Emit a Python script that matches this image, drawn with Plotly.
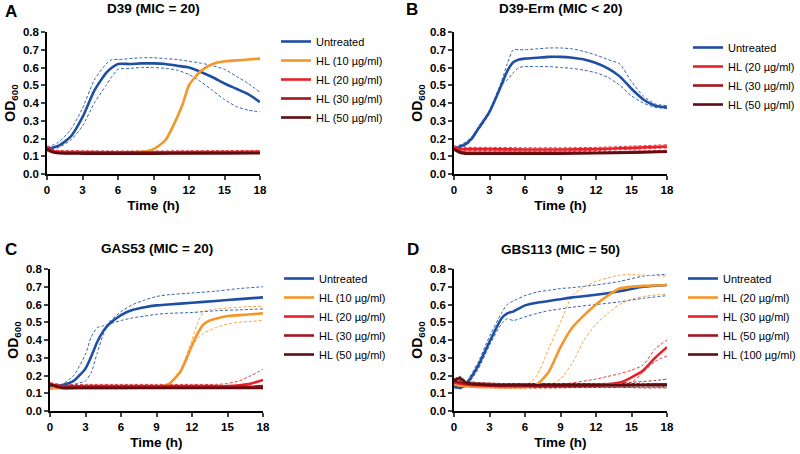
import plotly.graph_objects as go

BLUE = "#1f4fa3"
ORANGE = "#f5962a"
RED = "#e8202a"
DKRED = "#a3141c"
DKRED2 = "#5e0e10"

# ---------------- Panel A: D39 (MIC = 20) ----------------
a_t_unt = [0, 1, 2, 3, 4, 5, 5.5, 6, 7, 8, 9, 10, 11, 12, 13, 14, 15, 16, 17, 18]
a_unt = [0.14, 0.16, 0.21, 0.32, 0.47, 0.57, 0.60, 0.62, 0.62, 0.623, 0.623, 0.62, 0.61, 0.60, 0.575, 0.545, 0.51, 0.48, 0.45, 0.405]
a_unt_hi = [0.15, 0.18, 0.25, 0.37, 0.53, 0.62, 0.645, 0.645, 0.65, 0.655, 0.655, 0.65, 0.645, 0.635, 0.625, 0.61, 0.59, 0.55, 0.51, 0.46]
a_unt_lo = [0.13, 0.15, 0.19, 0.27, 0.40, 0.50, 0.55, 0.59, 0.595, 0.60, 0.60, 0.595, 0.585, 0.56, 0.52, 0.47, 0.42, 0.38, 0.36, 0.35]
a_t_hl10 = [0, 1, 3, 6, 8, 9, 10, 11, 11.5, 12, 13, 14, 15, 16, 17, 18]
a_hl10 = [0.13, 0.122, 0.12, 0.12, 0.125, 0.14, 0.19, 0.32, 0.40, 0.50, 0.58, 0.62, 0.635, 0.64, 0.645, 0.65]
a_t_flat = [0, 0.5, 1, 3, 6, 9, 12, 15, 18]
a_hl20 = [0.15, 0.13, 0.125, 0.123, 0.122, 0.122, 0.123, 0.124, 0.125]
a_hl30 = [0.14, 0.125, 0.12, 0.118, 0.118, 0.118, 0.119, 0.12, 0.12]
a_hl50 = [0.14, 0.122, 0.117, 0.115, 0.115, 0.115, 0.116, 0.116, 0.117]

# ---------------- Panel B: D39-Erm (MIC < 20) ----------------
b_t_unt = [0, 1, 1.5, 2, 3, 4, 4.5, 5, 5.5, 6, 7, 8, 9, 10, 11, 12, 13, 14, 15, 16, 17, 18]
b_unt = [0.14, 0.17, 0.20, 0.25, 0.35, 0.50, 0.58, 0.63, 0.645, 0.65, 0.655, 0.66, 0.66, 0.655, 0.645, 0.625, 0.595, 0.55, 0.48, 0.42, 0.385, 0.375]
b_unt_hi = [0.15, 0.18, 0.21, 0.26, 0.36, 0.52, 0.62, 0.70, 0.70, 0.70, 0.705, 0.71, 0.71, 0.705, 0.69, 0.67, 0.645, 0.62, 0.52, 0.44, 0.395, 0.385]
b_unt_lo = [0.13, 0.16, 0.19, 0.24, 0.34, 0.50, 0.53, 0.57, 0.60, 0.605, 0.605, 0.605, 0.60, 0.595, 0.585, 0.57, 0.545, 0.50, 0.44, 0.40, 0.375, 0.37]
b_t_flat = [0, 0.5, 1, 3, 6, 9, 12, 15, 18]
b_hl20 = [0.15, 0.14, 0.14, 0.14, 0.138, 0.138, 0.14, 0.147, 0.155]
b_hl30 = [0.14, 0.125, 0.12, 0.12, 0.12, 0.12, 0.12, 0.123, 0.127]
b_hl50 = [0.14, 0.12, 0.115, 0.115, 0.115, 0.115, 0.117, 0.12, 0.125]

# ---------------- Panel C: GAS53 (MIC = 20) ----------------
c_t_unt = [0, 1, 2, 3, 3.5, 4, 4.5, 5, 6, 7, 8, 9, 10, 12, 14, 16, 18]
c_unt = [0.14, 0.145, 0.17, 0.24, 0.31, 0.39, 0.45, 0.49, 0.54, 0.57, 0.585, 0.595, 0.60, 0.61, 0.62, 0.63, 0.64]
c_unt_early = [0.14, 0.15, 0.20, 0.32, 0.42, 0.47, 0.48, 0.49, 0.51, 0.525, 0.535, 0.545, 0.55, 0.555, 0.565, 0.57, 0.575]
c_unt_late = [0.14, 0.14, 0.15, 0.17, 0.22, 0.33, 0.43, 0.50, 0.56, 0.60, 0.625, 0.645, 0.655, 0.665, 0.675, 0.69, 0.70]
c_t_hl10 = [0, 1, 3, 6, 9, 10, 11, 11.5, 12, 12.5, 13, 13.5, 14, 15, 16, 17, 18]
c_hl10 = [0.13, 0.13, 0.13, 0.13, 0.135, 0.15, 0.22, 0.29, 0.37, 0.44, 0.49, 0.51, 0.52, 0.535, 0.54, 0.545, 0.55]
c_hl10_hi = [0.14, 0.135, 0.135, 0.135, 0.14, 0.155, 0.23, 0.31, 0.40, 0.50, 0.56, 0.57, 0.575, 0.58, 0.585, 0.588, 0.59]
c_hl10_lo = [0.12, 0.125, 0.125, 0.125, 0.13, 0.145, 0.21, 0.28, 0.36, 0.41, 0.44, 0.455, 0.47, 0.49, 0.50, 0.505, 0.51]
c_t_red = [0, 1, 3, 6, 9, 12, 14, 15, 16, 17, 18]
c_hl20 = [0.15, 0.14, 0.14, 0.14, 0.14, 0.14, 0.14, 0.14, 0.145, 0.155, 0.175]
c_hl20_hi = [0.16, 0.15, 0.15, 0.15, 0.15, 0.15, 0.15, 0.155, 0.17, 0.20, 0.235]
c_hl20_lo = [0.14, 0.13, 0.13, 0.13, 0.13, 0.13, 0.13, 0.13, 0.13, 0.13, 0.13]
c_hl30 = [0.15, 0.135, 0.135, 0.135, 0.135, 0.135, 0.135, 0.135, 0.136, 0.137, 0.14]
c_hl50 = [0.15, 0.13, 0.13, 0.13, 0.13, 0.13, 0.13, 0.13, 0.13, 0.13, 0.13]

# ---------------- Panel D: GBS113 (MIC = 50) ----------------
d_t_unt = [0, 0.5, 1, 2, 3, 4, 4.5, 5, 6, 7, 8, 9, 10, 12, 14, 16, 18]
d_unt = [0.14, 0.13, 0.15, 0.25, 0.39, 0.52, 0.55, 0.56, 0.595, 0.61, 0.62, 0.63, 0.64, 0.655, 0.675, 0.70, 0.71]
d_unt_hi = [0.14, 0.14, 0.16, 0.27, 0.42, 0.55, 0.60, 0.62, 0.65, 0.67, 0.68, 0.69, 0.695, 0.71, 0.73, 0.76, 0.77]
d_unt_lo = [0.13, 0.125, 0.14, 0.23, 0.37, 0.49, 0.52, 0.51, 0.53, 0.55, 0.565, 0.575, 0.585, 0.60, 0.615, 0.635, 0.65]
d_t_hl20 = [0, 1, 3, 6, 7, 8, 9, 10, 11, 12, 13, 14, 15, 16, 18]
d_hl20 = [0.15, 0.14, 0.135, 0.135, 0.15, 0.22, 0.36, 0.47, 0.54, 0.60, 0.65, 0.69, 0.70, 0.705, 0.71]
d_hl20_early = [0.15, 0.14, 0.135, 0.14, 0.20, 0.35, 0.50, 0.65, 0.70, 0.73, 0.75, 0.765, 0.768, 0.765, 0.76]
d_hl20_late = [0.15, 0.135, 0.13, 0.13, 0.13, 0.14, 0.18, 0.27, 0.40, 0.49, 0.55, 0.60, 0.63, 0.645, 0.66]
d_t_red = [0, 0.5, 1, 2, 4, 6, 9, 12, 13, 14, 15, 16, 17, 18]
d_hl30 = [0.16, 0.155, 0.15, 0.145, 0.14, 0.14, 0.14, 0.145, 0.15, 0.16, 0.19, 0.23, 0.30, 0.36]
d_hl30_hi = [0.17, 0.165, 0.16, 0.155, 0.15, 0.15, 0.15, 0.18, 0.195, 0.21, 0.23, 0.26, 0.35, 0.40]
d_hl30_lo = [0.15, 0.145, 0.14, 0.135, 0.13, 0.13, 0.13, 0.14, 0.145, 0.15, 0.16, 0.22, 0.28, 0.31]
d_hl50 = [0.17, 0.16, 0.155, 0.15, 0.145, 0.145, 0.145, 0.145, 0.145, 0.145, 0.147, 0.148, 0.15, 0.15]
d_hl50_hi = [0.18, 0.17, 0.165, 0.16, 0.155, 0.155, 0.155, 0.155, 0.156, 0.158, 0.162, 0.166, 0.172, 0.18]
d_hl50_lo = [0.16, 0.15, 0.145, 0.14, 0.135, 0.133, 0.132, 0.132, 0.132, 0.132, 0.132, 0.13, 0.13, 0.13]
d_hl100 = [0.17, 0.185, 0.16, 0.15, 0.145, 0.145, 0.145, 0.145, 0.145, 0.145, 0.145, 0.145, 0.145, 0.145]
d_hl100_hi = [0.18, 0.195, 0.17, 0.16, 0.155, 0.155, 0.155, 0.155, 0.155, 0.155, 0.155, 0.155, 0.155, 0.155]
d_hl100_lo = [0.16, 0.175, 0.15, 0.14, 0.135, 0.135, 0.135, 0.135, 0.135, 0.135, 0.135, 0.135, 0.135, 0.135]

titles = ["D39 (MIC = 20)", "D39-Erm (MIC < 20)", "GAS53 (MIC = 20)", "GBS113 (MIC = 50)"]
letters = ["A", "B", "C", "D"]

FONT = "Arial, Liberation Sans, sans-serif"
W, H = 800, 454

# plot areas in pixels (left, right, top, bottom)
boxes = [(47, 260, 32, 174), (454, 667, 32, 174), (50, 263, 269, 411), (454, 667, 269, 411)]
title_y = [8, 8, 248, 249]
letter_pos = [(3, 12), (404, 9), (3, 249), (405, 249)]
legend_pos = [(276, 27), (688, 33), (279, 264), (683, 264)]

fig = go.Figure()


def mean_line(t, y, color, name, panel):
    ax = "" if panel == 1 else str(panel)
    fig.add_trace(go.Scatter(
        x=t, y=y, mode="lines", name=name,
        line=dict(color=color, width=2.6, shape="spline", smoothing=0.6),
        xaxis="x" + ax, yaxis="y" + ax, legend="legend" + ax,
    ))


def band_line(t, y, color, panel):
    ax = "" if panel == 1 else str(panel)
    fig.add_trace(go.Scatter(
        x=t, y=y, mode="lines", showlegend=False, hoverinfo="skip",
        line=dict(color=color, width=0.9, dash="3px,2px", shape="spline", smoothing=0.6),
        xaxis="x" + ax, yaxis="y" + ax,
    ))


# panel A
band_line(a_t_unt, a_unt_hi, BLUE, 1)
band_line(a_t_unt, a_unt_lo, BLUE, 1)
band_line(a_t_flat, [v + 0.008 for v in a_hl20], RED, 1)
band_line(a_t_flat, [v - 0.006 for v in a_hl20], RED, 1)
mean_line(a_t_unt, a_unt, BLUE, "Untreated", 1)
mean_line(a_t_hl10, a_hl10, ORANGE, "HL (10 µg/ml)", 1)
mean_line(a_t_flat, a_hl20, RED, "HL (20 µg/ml)", 1)
mean_line(a_t_flat, a_hl30, DKRED, "HL (30 µg/ml)", 1)
mean_line(a_t_flat, a_hl50, DKRED2, "HL (50 µg/ml)", 1)

# panel B
band_line(b_t_unt, b_unt_hi, BLUE, 2)
band_line(b_t_unt, b_unt_lo, BLUE, 2)
band_line(b_t_flat, [v + 0.01 for v in b_hl20], RED, 2)
band_line(b_t_flat, [v - 0.008 for v in b_hl20], RED, 2)
band_line(b_t_flat, [v + 0.008 for v in b_hl50], DKRED, 2)
mean_line(b_t_unt, b_unt, BLUE, "Untreated", 2)
mean_line(b_t_flat, b_hl20, RED, "HL (20 µg/ml)", 2)
mean_line(b_t_flat, b_hl30, DKRED, "HL (30 µg/ml)", 2)
mean_line(b_t_flat, b_hl50, DKRED2, "HL (50 µg/ml)", 2)

# panel C
band_line(c_t_unt, c_unt_early, BLUE, 3)
band_line(c_t_unt, c_unt_late, BLUE, 3)
band_line(c_t_hl10, c_hl10_hi, ORANGE, 3)
band_line(c_t_hl10, c_hl10_lo, ORANGE, 3)
band_line(c_t_red, c_hl20_hi, RED, 3)
band_line(c_t_red, c_hl20_lo, RED, 3)
mean_line(c_t_unt, c_unt, BLUE, "Untreated", 3)
mean_line(c_t_hl10, c_hl10, ORANGE, "HL (10 µg/ml)", 3)
mean_line(c_t_red, c_hl20, RED, "HL (20 µg/ml)", 3)
mean_line(c_t_red, c_hl30, DKRED, "HL (30 µg/ml)", 3)
mean_line(c_t_red, c_hl50, DKRED2, "HL (50 µg/ml)", 3)

# panel D
band_line(d_t_unt, d_unt_hi, BLUE, 4)
band_line(d_t_unt, d_unt_lo, BLUE, 4)
band_line(d_t_hl20, d_hl20_early, ORANGE, 4)
band_line(d_t_hl20, d_hl20_late, ORANGE, 4)
band_line(d_t_red, d_hl30_hi, RED, 4)
band_line(d_t_red, d_hl30_lo, RED, 4)
band_line(d_t_red, d_hl50_hi, DKRED, 4)
band_line(d_t_red, d_hl50_lo, DKRED, 4)
band_line(d_t_red, d_hl100_hi, DKRED2, 4)
band_line(d_t_red, d_hl100_lo, DKRED2, 4)
mean_line(d_t_unt, d_unt, BLUE, "Untreated", 4)
mean_line(d_t_hl20, d_hl20, ORANGE, "HL (20 µg/ml)", 4)
mean_line(d_t_red, d_hl30, RED, "HL (30 µg/ml)", 4)
mean_line(d_t_red, d_hl50, DKRED, "HL (50 µg/ml)", 4)
mean_line(d_t_red, d_hl100, DKRED2, "HL (100 µg/ml)", 4)

layout = dict(
    width=W, height=H,
    margin=dict(l=0, r=0, t=0, b=0, autoexpand=False),
    plot_bgcolor="white", paper_bgcolor="white",
    font=dict(family=FONT, color="black"),
    annotations=[],
)

for i, (l, r, t, b) in enumerate(boxes):
    k = "" if i == 0 else str(i + 1)
    layout["xaxis" + k] = dict(
        domain=[l / W, r / W], range=[0, 18], anchor="y" + k,
        tickvals=[0, 3, 6, 9, 12, 15, 18], ticks="outside", ticklen=4, tickwidth=1.5,
        showline=True, linecolor="black", linewidth=1.5, showgrid=False, zeroline=False,
        tickfont=dict(size=11.5, family=FONT, weight="bold"),
        title=dict(text="<b>Time (h)</b>", font=dict(size=13.5), standoff=6),
    )
    layout["yaxis" + k] = dict(
        domain=[1 - b / H, 1 - t / H], range=[0, 0.8], anchor="x" + k,
        tickvals=[0, 0.1, 0.2, 0.3, 0.4, 0.5, 0.6, 0.7, 0.8], tickformat=".1f",
        ticks="outside", ticklen=4, tickwidth=1.5,
        showline=True, linecolor="black", linewidth=1.5, showgrid=False, zeroline=False,
        tickfont=dict(size=11.5, family=FONT, weight="bold"),
        title=dict(text="<b>OD<sub>600</sub></b>", font=dict(size=14), standoff=4),
    )
    lx, ly = legend_pos[i]
    layout["legend" + k] = dict(
        x=lx / W, y=1 - ly / H, xanchor="left", yanchor="top",
        font=dict(size=11, family=FONT), bgcolor="rgba(0,0,0,0)",
        tracegroupgap=0, itemwidth=30,
    )
    layout["annotations"].append(dict(
        text="<b>" + titles[i] + "</b>", x=(l + r) / 2 / W, y=1 - title_y[i] / H,
        xref="paper", yref="paper", showarrow=False, font=dict(size=13.5),
        xanchor="center", yanchor="middle",
    ))
    px_, py_ = letter_pos[i]
    layout["annotations"].append(dict(
        text="<b>" + letters[i] + "</b>", x=px_ / W, y=1 - py_ / H,
        xref="paper", yref="paper", showarrow=False, font=dict(size=17),
        xanchor="left", yanchor="middle",
    ))

fig.update_layout(**layout)
# drop the default 8px page margin so the 800x454 figure fills the window
fig.write_html(
    "out.html",
    config={"displayModeBar": False},
    post_script="document.body.style.margin = '0px';",
)
